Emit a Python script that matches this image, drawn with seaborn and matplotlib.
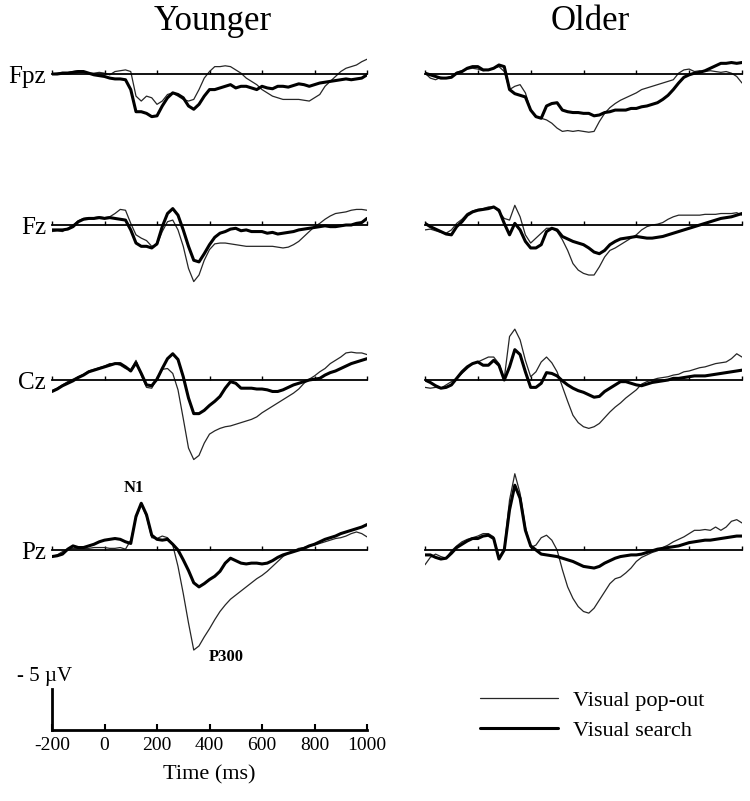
import numpy as np
import pandas as pd
import matplotlib
matplotlib.use("Agg")
import matplotlib.pyplot as plt
from matplotlib.lines import Line2D
import seaborn as sns

# sampling grid (ms), sites, groups, conditions
time_ms = list(range(-200, 1001, 20))
sites = ["Fpz", "Fz", "Cz", "Pz"]
groups = ["Younger", "Older"]
conditions = ["Visual pop-out", "Visual search"]
time_ticks = [-200, 0, 200, 400, 600, 800, 1000]

# amplitudes in microvolts (negative is drawn upward)
younger_fpz_popout = [0, -0.1, -0.2, -0.2, -0.3, -0.4, -0.3, -0.1, -0.1, -0.2, -0.1, 0.1, -0.3, -0.4, -0.5, -0.3,
                      2.7, 3.3, 2.7, 2.9, 3.7, 3.3, 2.5, 2.3, 2.7, 3.1, 3.3, 3.1, 1.9, 0.5, -0.3, -0.9, -0.9, -1.0,
                      -0.9, -0.5, -0.1, 0.5, 0.9, 1.3, 1.9, 2.3, 2.7, 2.9, 3.1, 3.1, 3.1, 3.1, 3.2, 3.3, 2.9, 2.5,
                      1.5, 0.9, 0.3, -0.3, -0.7, -0.9, -1.1, -1.5, -1.8]
younger_fpz_search = [0, 0, -0.1, -0.1, -0.2, -0.3, -0.3, -0.1, 0.1, 0.2, 0.3, 0.5, 0.6, 0.6, 0.7, 1.9,
                      4.6, 4.6, 4.8, 5.2, 5.1, 3.9, 2.9, 2.3, 2.5, 2.9, 3.9, 4.3, 3.7, 2.7, 1.9, 1.9, 1.7, 1.5,
                      1.3, 1.7, 1.5, 1.5, 1.7, 1.9, 1.5, 1.7, 1.8, 1.5, 1.5, 1.6, 1.4, 1.2, 1.3, 1.5, 1.3, 1.1,
                      1.0, 0.9, 0.8, 0.7, 0.6, 0.7, 0.6, 0.5, 0.1]
older_fpz_popout = [-0.1, 0.5, 0.7, 0.4, 0.5, 0.3, -0.2, -0.4, -0.6, -0.7, -0.6, -0.4, -0.5, -0.7, -0.9, -0.3,
                    1.9, 1.5, 1.3, 2.3, 4.4, 5.2, 5.4, 5.6, 6.0, 6.6, 7.0, 6.9, 7.0, 6.9, 7.0, 7.1, 7.0, 5.8,
                    4.8, 4.1, 3.6, 3.2, 2.9, 2.6, 2.3, 1.9, 1.7, 1.5, 1.3, 1.1, 0.9, 0.7, -0.1, -0.5, -0.6, -0.3,
                    -0.4, -0.3, -0.4, -0.3, -0.2, -0.3, -0.1, 0.3, 1.1]
older_fpz_search = [-0.1, 0.1, 0.3, 0.5, 0.5, 0.4, -0.1, -0.3, -0.7, -0.9, -0.9, -0.5, -0.5, -0.7, -1.1, -0.9,
                    1.9, 2.4, 2.6, 2.8, 4.4, 5.2, 5.4, 3.9, 3.6, 3.5, 4.4, 4.6, 4.7, 4.7, 4.8, 4.8, 5.1, 5.0,
                    4.7, 4.6, 4.4, 4.4, 4.4, 4.2, 4.2, 4.0, 3.9, 3.7, 3.5, 3.1, 2.6, 1.9, 1.1, 0.4, 0.1, -0.1,
                    -0.2, -0.4, -0.7, -1.0, -1.3, -1.3, -1.4, -1.3, -1.4]

younger_fz_popout = [0.8, 0.7, 0.8, 0.4, 0.0, -0.5, -0.8, -0.9, -0.9, -1.0, -0.9, -1.0, -1.4, -1.9, -1.8, -0.2,
                     1.2, 1.6, 1.9, 2.6, 2.4, 0.8, -0.4, -0.6, 0.6, 2.6, 5.3, 6.9, 6.1, 4.3, 3.0, 2.3, 2.2, 2.2,
                     2.3, 2.4, 2.5, 2.6, 2.6, 2.6, 2.6, 2.6, 2.6, 2.7, 2.8, 2.7, 2.4, 2.0, 1.4, 0.8, 0.2, -0.2,
                     -0.7, -1.1, -1.4, -1.5, -1.6, -1.8, -1.9, -1.9, -1.8]
younger_fz_search = [0.6, 0.6, 0.6, 0.5, 0.2, -0.4, -0.7, -0.8, -0.8, -0.9, -0.8, -0.9, -0.8, -0.7, -0.6, 0.6,
                     2.2, 2.6, 2.6, 2.8, 2.3, 0.2, -1.4, -2.0, -1.2, 0.6, 2.6, 4.3, 4.5, 3.5, 2.4, 1.5, 1.0, 0.8,
                     0.5, 0.4, 0.7, 0.6, 0.8, 0.8, 0.8, 1.0, 0.9, 1.1, 1.0, 0.9, 0.8, 0.6, 0.5, 0.4, 0.3, 0.2,
                     0.1, 0.2, 0.2, 0.1, 0.0, 0.0, -0.2, -0.3, -0.8]
older_fz_popout = [0.6, 0.5, 0.7, 0.9, 1.0, 0.6, -0.2, -0.7, -1.4, -1.7, -1.9, -2.0, -2.2, -2.2, -1.6, -0.8,
                   -0.6, -2.4, -1.0, 1.2, 2.2, 1.6, 1.0, 0.4, 0.4, 0.8, 1.8, 3.1, 4.7, 5.5, 5.9, 6.1, 6.1, 5.1,
                   3.9, 3.1, 2.8, 2.4, 2.0, 1.6, 1.2, 0.6, 0.2, 0.0, -0.1, -0.3, -0.7, -1.0, -1.2, -1.2, -1.2,
                   -1.2, -1.2, -1.3, -1.3, -1.3, -1.4, -1.4, -1.4, -1.5, -1.2]
older_fz_search = [-0.2, 0.2, 0.5, 0.8, 1.1, 1.2, 0.2, -0.4, -1.2, -1.6, -1.8, -1.9, -2.0, -2.2, -1.8, -0.2,
                   1.2, -0.2, 0.6, 2.0, 2.8, 2.8, 2.4, 0.8, 0.4, 0.6, 1.4, 1.7, 2.0, 2.2, 2.4, 2.8, 3.3, 3.5,
                   3.1, 2.4, 2.0, 1.7, 1.6, 1.5, 1.4, 1.5, 1.6, 1.6, 1.5, 1.4, 1.2, 1.0, 0.8, 0.6, 0.4, 0.2,
                   0.0, -0.2, -0.4, -0.6, -0.8, -0.9, -1.0, -1.2, -1.4]

younger_cz_popout = [1.3, 1.0, 0.6, 0.2, -0.1, -0.4, -0.7, -1.1, -1.3, -1.5, -1.7, -2.0, -2.0, -1.8, -1.4, -1.2,
                     -2.4, -0.6, 0.9, 1.0, -0.2, -1.3, -1.4, -0.8, 1.2, 4.7, 8.3, 9.7, 9.2, 7.7, 6.6, 6.2, 5.9,
                     5.7, 5.6, 5.4, 5.2, 5.0, 4.8, 4.5, 4.0, 3.6, 3.2, 2.8, 2.4, 2.0, 1.6, 1.1, 0.4, -0.1, -0.5,
                     -1.0, -1.4, -2.0, -2.4, -2.8, -3.3, -3.4, -3.3, -3.3, -3.1]
younger_cz_search = [1.4, 1.1, 0.7, 0.4, 0.1, -0.3, -0.6, -1.0, -1.2, -1.4, -1.6, -1.8, -2.0, -2.0, -1.6, -1.1,
                     -2.1, -0.8, 0.6, 0.7, -0.1, -1.4, -2.6, -3.2, -2.5, -0.4, 2.2, 4.1, 4.1, 3.7, 3.1, 2.6, 2.0,
                     1.0, 0.2, 0.4, 1.0, 1.0, 1.0, 1.1, 1.1, 1.2, 1.4, 1.4, 1.2, 0.9, 0.6, 0.4, 0.2, 0.0, -0.1,
                     -0.2, -0.6, -0.9, -1.1, -1.4, -1.7, -2.0, -2.2, -2.4, -2.6]
older_cz_popout = [0.9, 1.0, 0.9, 1.0, 0.6, 0.2, -0.2, -0.8, -1.4, -2.0, -2.2, -2.5, -2.8, -2.8, -2.0, -0.2,
                   -5.3, -6.2, -4.9, -2.4, -0.4, -1.0, -2.2, -2.8, -2.1, -1.0, 0.8, 2.6, 4.3, 5.2, 5.7, 5.9, 5.7,
                   5.3, 4.6, 3.9, 3.3, 2.8, 2.2, 1.7, 1.2, 0.5, 0.2, 0.0, -0.2, -0.3, -0.4, -0.6, -0.7, -1.0,
                   -1.1, -1.3, -1.5, -1.6, -1.8, -2.0, -2.1, -2.2, -2.6, -3.2, -2.8]
older_cz_search = [0.0, 0.3, 0.7, 1.0, 0.9, 0.6, -0.2, -1.0, -1.6, -2.0, -2.2, -1.8, -1.8, -2.4, -1.8, 0.0,
                   -1.6, -3.7, -3.1, -1.0, 0.9, 0.9, 0.4, -0.9, -0.8, -0.5, 0.1, 0.6, 1.0, 1.3, 1.5, 1.8, 2.1,
                   2.0, 1.4, 1.0, 0.6, 0.2, 0.2, 0.4, 0.6, 0.7, 0.5, 0.3, 0.2, 0.1, 0.0, -0.2, -0.2, -0.3, -0.4,
                   -0.5, -0.5, -0.5, -0.6, -0.7, -0.8, -0.9, -1.0, -1.1, -1.2]

younger_pz_popout = [0.8, 0.6, 0.2, -0.1, -0.2, -0.2, -0.2, -0.2, -0.3, -0.3, -0.3, -0.2, -0.2, -0.3, -0.1, -1.2,
                     -3.9, -5.6, -4.1, -1.5, -1.4, -1.7, -1.5, -0.6, 2.0, 5.3, 8.9, 12.2, 11.7, 10.6, 9.6, 8.5,
                     7.5, 6.7, 6.0, 5.5, 5.0, 4.5, 4.0, 3.5, 3.1, 2.6, 2.0, 1.4, 0.8, 0.4, 0.1, -0.2, -0.3, -0.5,
                     -0.6, -0.8, -1.0, -1.2, -1.4, -1.5, -1.7, -2.0, -2.2, -2.0, -1.6]
younger_pz_search = [0.8, 0.7, 0.5, -0.1, -0.5, -0.3, -0.3, -0.5, -0.7, -1.0, -1.2, -1.3, -1.4, -1.3, -1.0, -0.8,
                     -4.1, -5.7, -4.3, -1.8, -1.3, -1.2, -1.3, -0.7, 0.0, 1.2, 2.5, 4.0, 4.5, 4.1, 3.6, 3.2, 2.6,
                     1.6, 1.0, 1.3, 1.6, 1.7, 1.6, 1.6, 1.7, 1.6, 1.3, 0.9, 0.6, 0.4, 0.2, 0.0, -0.2, -0.5, -0.7,
                     -1.0, -1.3, -1.5, -1.7, -2.0, -2.2, -2.4, -2.6, -2.8, -3.1]
older_pz_popout = [1.8, 0.9, 0.5, 0.8, 1.0, 0.1, -0.5, -1.0, -1.3, -1.5, -1.7, -2.0, -2.0, -1.6, 1.0, -0.2,
                   -6.1, -9.3, -6.9, -2.8, -0.3, -0.6, -1.5, -1.8, -1.2, 0.0, 2.4, 4.5, 5.9, 6.9, 7.5, 7.7, 7.1,
                   6.1, 5.1, 4.1, 3.5, 3.3, 2.8, 2.2, 1.4, 0.9, 0.6, 0.3, 0.1, -0.3, -0.6, -1.0, -1.3, -1.6,
                   -2.0, -2.4, -2.4, -2.5, -2.4, -2.8, -2.4, -2.8, -3.5, -3.7, -3.3]
older_pz_search = [0.6, 0.6, 0.9, 1.1, 1.0, 0.4, -0.3, -0.7, -1.1, -1.4, -1.4, -1.7, -1.8, -1.4, 1.1, 0.0,
                   -4.9, -7.9, -6.3, -2.4, -0.5, 0.0, 0.5, 0.6, 0.7, 0.8, 1.0, 1.2, 1.4, 1.7, 2.0, 2.1, 2.2,
                   2.0, 1.6, 1.3, 1.0, 0.8, 0.7, 0.6, 0.6, 0.5, 0.3, 0.1, -0.1, -0.2, -0.3, -0.4, -0.5, -0.7,
                   -0.9, -1.0, -1.1, -1.2, -1.2, -1.3, -1.4, -1.5, -1.6, -1.7, -1.7]

waves = {
    ("Younger", "Fpz"): (younger_fpz_popout, younger_fpz_search),
    ("Older", "Fpz"): (older_fpz_popout, older_fpz_search),
    ("Younger", "Fz"): (younger_fz_popout, younger_fz_search),
    ("Older", "Fz"): (older_fz_popout, older_fz_search),
    ("Younger", "Cz"): (younger_cz_popout, younger_cz_search),
    ("Older", "Cz"): (older_cz_popout, older_cz_search),
    ("Younger", "Pz"): (younger_pz_popout, younger_pz_search),
    ("Older", "Pz"): (older_pz_popout, older_pz_search),
}

rows = []
for (grp, site), pair in waves.items():
    for cond, vals in zip(conditions, pair):
        for t, v in zip(time_ms, vals):
            rows.append((grp, site, cond, t, v))
df = pd.DataFrame(rows, columns=["group", "site", "condition", "time", "amp"])

sns.set_theme(style="white")
plt.rcParams["font.family"] = ["Liberation Serif", "DejaVu Serif"]
plt.rcParams["text.color"] = "black"
plt.rcParams["axes.labelcolor"] = "black"
plt.rcParams["xtick.color"] = "black"
plt.rcParams["xtick.labelcolor"] = "black"

W, H = 750, 801
fig = plt.figure(figsize=(7.5, 8.01), dpi=100)


def fx(x):
    return x / W


def fy(y):
    return 1 - y / H


px_per_uv = 8.2
col_x = {"Younger": (52, 367), "Older": (425, 742)}
row_y = {"Fpz": 74, "Fz": 225, "Cz": 380, "Pz": 550}
above, below = 90, 110
palette = {"Visual pop-out": "#262626", "Visual search": "black"}
widths = {"Visual pop-out": 0.9, "Visual search": 2.2}

for grp in groups:
    x0, x1 = col_x[grp]
    for site in sites:
        y0 = row_y[site]
        ax = fig.add_axes([fx(x0), fy(y0 + below), (x1 - x0) / W, (above + below) / H])
        sub = df[(df.group == grp) & (df.site == site)]
        sns.lineplot(data=sub, x="time", y="amp", hue="condition", size="condition",
                     hue_order=conditions, size_order=conditions,
                     palette=palette, sizes=widths, legend=False, ax=ax)
        ax.set_xlim(-200, 1000)
        ax.set_ylim(below / px_per_uv, -above / px_per_uv)
        ax.patch.set_alpha(0)
        for s in ["left", "right", "top"]:
            ax.spines[s].set_visible(False)
        ax.spines["bottom"].set_position(("data", 0))
        ax.spines["bottom"].set_color("black")
        ax.spines["bottom"].set_linewidth(1.3)
        ax.set_xticks(time_ticks)
        ax.set_yticks([])
        ax.tick_params(axis="x", direction="in", length=3, width=1, bottom=True, labelbottom=False)
        ax.set_xlabel("")
        ax.set_ylabel("")
        if grp == "Younger":
            fig.text(fx(46), fy(y0 + 3), site, ha="right", va="center", fontsize=18)
        if grp == "Younger" and site == "Pz":
            ax.text(112, -7.6, "N1", ha="center", va="center", fontsize=12, fontweight="bold")
            ax.text(463, 13.0, "P300", ha="center", va="center", fontsize=12, fontweight="bold")

fig.text(fx(213), fy(22), "Younger", ha="center", va="center", fontsize=25)
fig.text(fx(590), fy(22), "Older", ha="center", va="center", fontsize=25)

# scale bar / time axis
sax = fig.add_axes([fx(52), fy(730), 315 / W, 41 / H])
sax.set_xlim(-200, 1000)
sax.set_ylim(0, 5)
sax.patch.set_alpha(0)
for s in ["right", "top"]:
    sax.spines[s].set_visible(False)
for s in ["left", "bottom"]:
    sax.spines[s].set_color("black")
    sax.spines[s].set_linewidth(2)
sax.set_xticks(time_ticks)
sax.set_xticklabels([str(t) for t in time_ticks])
sax.set_yticks([])
sax.tick_params(axis="x", direction="in", length=4, width=1.5, bottom=True, labelsize=14, pad=5,
                colors="black")
sax.set_xlabel("Time (ms)", fontsize=16, labelpad=8, color="black")
fig.text(fx(45), fy(677), "- 5 \u00b5V", ha="center", va="center", fontsize=15)

handles = [Line2D([], [], color=palette[c], lw=widths[c]) for c in conditions]
fig.legend(handles, conditions, loc="upper left", bbox_to_anchor=(fx(480), fy(690)),
           frameon=False, fontsize=16, handlelength=3.5, handletextpad=0.7,
           labelspacing=0.45, borderpad=0, borderaxespad=0)

fig.savefig("out.png", dpi=100)
